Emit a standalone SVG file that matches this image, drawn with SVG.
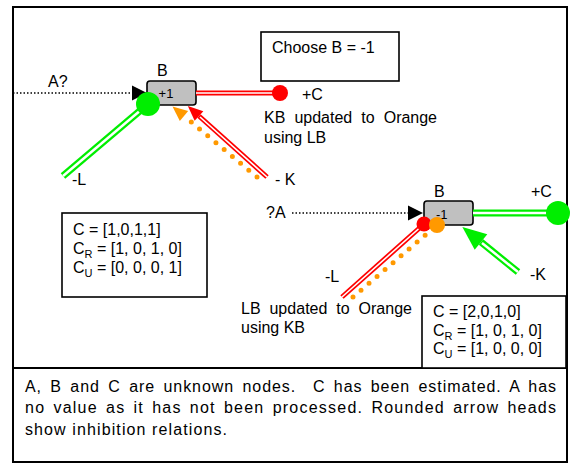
<svg xmlns="http://www.w3.org/2000/svg" width="570" height="464" viewBox="0 0 570 464">
<defs>
<style>
text { font-family: "Liberation Sans", Arial, sans-serif; font-size: 16px; fill: #000; }
.small { font-size: 13px; }
.sub { font-size: 11px; }
.cap { letter-spacing: 1px; }
.frame { fill: #fff; stroke: #000; stroke-width: 2; }
.box { fill: #fff; stroke: #000; stroke-width: 1.6; }
.node { fill: #c0c0c0; stroke: #000; stroke-width: 1.6; }
.dot { fill: none; stroke: #000; stroke-width: 1.5; stroke-dasharray: 1.5 2; }
.red { fill: none; stroke: #ff0000; stroke-width: 5; }
.green { fill: none; stroke: #00ee00; stroke-width: 7; }
.red-in { fill: none; stroke: #fff; stroke-width: 1.6; }
.green-in { fill: none; stroke: #fff; stroke-width: 2.5; }
.orange { fill: none; stroke: #ff9900; stroke-width: 5; stroke-linecap: round; }
</style>
<marker id="ah-black" markerUnits="userSpaceOnUse" markerWidth="16" markerHeight="16" refX="0" refY="7.5" orient="auto" overflow="visible"><path d="M0,0 L15,7.5 L0,15 z" fill="#000"/></marker>
<marker id="ah-red" markerUnits="userSpaceOnUse" markerWidth="16" markerHeight="14" refX="0" refY="6.5" orient="auto" overflow="visible"><path d="M0,0 L15,6.5 L0,13 z" fill="#ff0000"/></marker>
<marker id="ah-orange" markerUnits="userSpaceOnUse" markerWidth="16" markerHeight="14" refX="0" refY="6.5" orient="auto" overflow="visible"><path d="M0,0 L15,6.5 L0,13 z" fill="#ff9900"/></marker>
<marker id="ah-green" markerUnits="userSpaceOnUse" markerWidth="25" markerHeight="21" refX="0" refY="10" orient="auto" overflow="visible"><path d="M0,0 L24,10 L0,20 z" fill="#00ee00"/></marker>
</defs>
<rect x="0" y="0" width="570" height="464" fill="#fff"/>
<g id="frame">
<rect class="frame" x="13" y="7" width="554" height="361"/>
</g>
<g id="caption">
<rect class="frame" x="13" y="368" width="554" height="94"/>
<text class="cap" x="25" y="392" word-spacing="3" textLength="532" lengthAdjust="spacing" xml:space="preserve">A, B and C are unknown nodes.  C has been estimated. A has</text>
<text class="cap" x="25" y="413" word-spacing="2.5" textLength="532" lengthAdjust="spacing">no value as it has not been processed. Rounded arrow heads</text>
<text class="cap" x="25" y="435" textLength="203" lengthAdjust="spacing">show inhibition relations.</text>
</g>
<g id="choose-box">
<rect class="box" x="261" y="32" width="138" height="49"/>
<text x="272" y="53">Choose B = -1</text>
</g>
<g id="counts-1">
<rect class="box" x="62" y="213" width="145" height="84"/>
<text x="73" y="235">C = [1,0,1,1]</text>
<text x="73" y="254">C<tspan class="sub" dy="4">R</tspan><tspan dy="-4"> = [1, 0, 1, 0]</tspan></text>
<text x="73" y="273">C<tspan class="sub" dy="4">U</tspan><tspan dy="-4"> = [0, 0, 0, 1]</tspan></text>
</g>
<g id="counts-2">
<rect class="box" x="422" y="296" width="144" height="72"/>
<text x="433" y="317">C = [2,0,1,0]</text>
<text x="433" y="336">C<tspan class="sub" dy="4">R</tspan><tspan dy="-4"> = [1, 0, 1, 0]</tspan></text>
<text x="433" y="354">C<tspan class="sub" dy="4">U</tspan><tspan dy="-4"> = [1, 0, 0, 0]</tspan></text>
</g>
<g id="node-B1">
<rect class="node" x="147" y="81" width="49" height="24" rx="3"/>
<text class="small" x="166" y="98" text-anchor="middle">+1</text>
<text x="157" y="76">B</text>
</g>
<g id="node-B2">
<rect class="node" x="424" y="201" width="49" height="24" rx="3"/>
<text class="small" x="436" y="219">-1</text>
<text x="434" y="197">B</text>
</g>
<g id="connectors">
<path class="dot" d="M13,93 L132,93" marker-end="url(#ah-black)"/>
<path class="green" d="M63,176 L148,104"/>
<path class="green-in" d="M63,176 L148,104"/>
<circle cx="148" cy="104" r="12" fill="#00ee00"/>
<path class="red" d="M196,93 L280,93"/>
<path class="red-in" d="M196,93 L280,93"/>
<circle cx="280" cy="93" r="8" fill="#ff0000"/>
<path class="red" d="M267,177 L199,116" marker-end="url(#ah-red)"/>
<path class="red-in" d="M267,177 L200,117"/>
<path class="orange" d="M257,177 L184,116" stroke-dasharray="0 10.7" marker-end="url(#ah-orange)"/>
<path class="dot" d="M292,213 L408,213" marker-end="url(#ah-black)"/>
<path class="red" d="M342,297 L424,224"/>
<path class="red-in" d="M342,297 L424,224"/>
<circle cx="424" cy="224" r="7.5" fill="#ff0000"/>
<path class="orange" d="M353,297 L426,234.5" stroke-dasharray="0 10.55"/>
<circle cx="437" cy="225" r="8" fill="#ff9900"/>
<path class="green" d="M473,213 L558,213"/>
<path class="green-in" d="M473,213 L558,213"/>
<circle cx="558" cy="213" r="12" fill="#00ee00"/>
<path class="green" d="M518,272 L481,242" marker-end="url(#ah-green)"/>
<path class="green-in" d="M518,272 L482,243"/>
</g>
<g id="labels">
<text x="48" y="87">A?</text>
<text x="302" y="100">+C</text>
<text x="264" y="123" word-spacing="4.7" textLength="173" lengthAdjust="spacing">KB updated to Orange</text>
<text x="264" y="143">using LB</text>
<text x="72" y="185">-L</text>
<text x="275" y="185">- K</text>
<text x="266" y="218">?A</text>
<text x="531" y="197">+C</text>
<text x="325" y="282">-L</text>
<text x="530" y="280">-K</text>
<text x="241" y="314" word-spacing="4.3" textLength="171" lengthAdjust="spacing">LB updated to Orange</text>
<text x="241" y="333">using KB</text>
</g>
</svg>
